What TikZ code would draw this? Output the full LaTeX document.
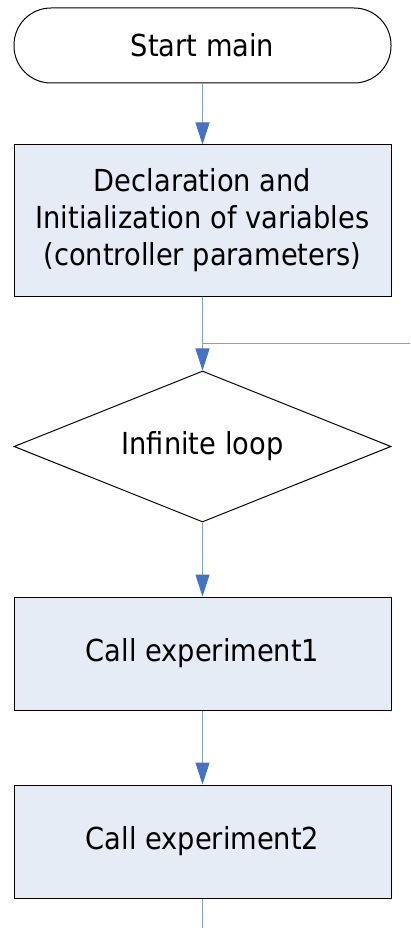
\documentclass[tikz,border=0pt]{standalone}
\usepackage{fontspec}
\setmainfont{DejaVu Sans Condensed}
\usepackage{tikz}
\usetikzlibrary{shapes.geometric, positioning, arrows.meta}

\definecolor{boxfill}{RGB}{230,236,246}
\definecolor{flowline}{RGB}{127,160,214}
\definecolor{tipblue}{RGB}{70,114,196}

\tikzset{
every node/.style={font=\fontsize{30.3}{37}\selectfont, align=center}, % large flowchart text
terminal/.style={draw, line width=1pt, rounded corners=37pt, minimum width=377pt, minimum height=75pt}, % start block
process/.style={draw, line width=1pt, fill=boxfill, minimum width=377pt}, % blue process boxes
decision/.style={draw, diamond, aspect=2.5, line width=1pt, inner sep=0pt, minimum width=377pt, minimum height=151pt}, % loop test
flow/.style={draw=flowline, line width=1pt}, % plain connector
flowarrow/.style={flow, -{Triangle[width=14pt, length=22pt, color=tipblue]}}, % connector with head
}

\begin{document}
\begin{tikzpicture}[node distance=74pt]
  \useasboundingbox (0,0) rectangle (410pt,-928pt);

  % Blocks
  \node[terminal] (start) at (202.5pt,-45.5pt) {Start main};
  \node[process, minimum height=151pt, below=61pt of start] (init) {Declaration and\\Initialization of variables\\(controller parameters)};
  \node[decision, below=of init] (loop) {Infinite loop};
  \node[process, minimum height=113pt, below=of loop] (exp1) {Call experiment1};
  \node[process, minimum height=113pt, below=of exp1] (exp2) {Call experiment2};

  % Free ends
  \coordinate (back) at (410pt,-343pt);
  \coordinate (out) at (exp2.south |- 0,-928pt);

  % Connectors
  \draw[flowarrow] (start) -- (init);
  \draw[flowarrow] (init) -- (loop);
  \draw[flow] (back) -- (back -| loop.north);
  \draw[flowarrow] (loop) -- (exp1);
  \draw[flowarrow] (exp1) -- (exp2);
  \draw[flow] (exp2) -- (out);
\end{tikzpicture}
\end{document}
